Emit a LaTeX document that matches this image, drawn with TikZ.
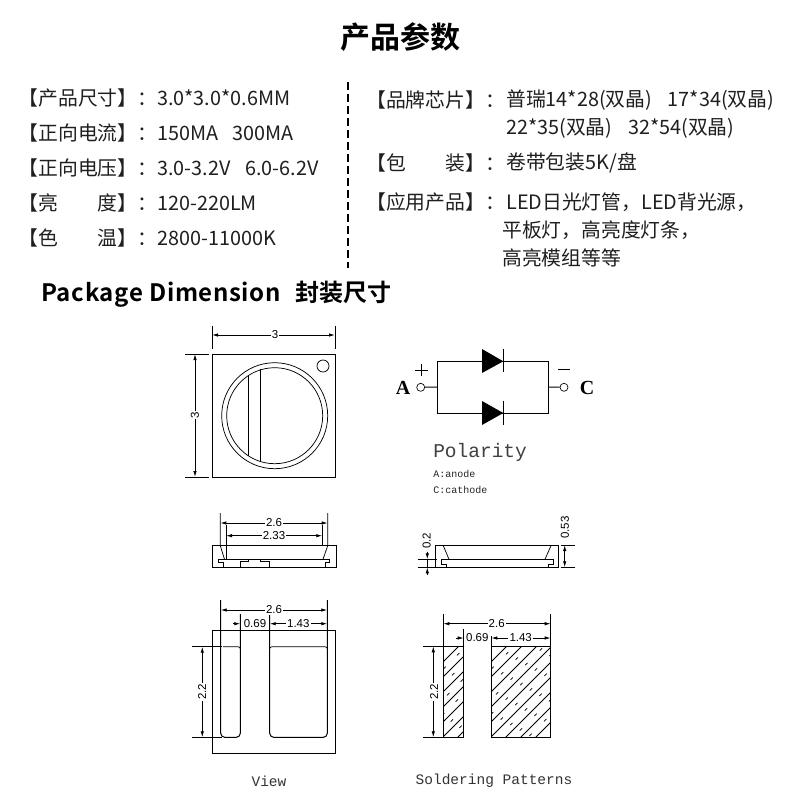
\documentclass[tikz,border=0pt]{standalone}
\usepackage{fontspec}
\setmainfont{Noto Sans CJK SC}
\newfontfamily\cjkn{Noto Sans CJK SC}
\newfontfamily\cjkb{Noto Sans CJK SC Bold}
\newfontfamily\latb{Noto Sans CJK SC Bold}[LetterSpace=2.7]
\newfontfamily\monof{Liberation Mono}
\newfontfamily\dimf{Liberation Sans}
\newfontfamily\capf{Liberation Serif}
\usetikzlibrary{arrows.meta}
\makeatletter
\newcommand{\fs}[1]{\fontsize{\strip@pt\dimexpr#1pt*3/4\relax}{\strip@pt\dimexpr#1pt\relax}\selectfont}
\makeatother
\tikzset{
  x=0.75pt,y=-0.75pt,
  cad/.style={draw=black,line width=0.75pt},
  thincad/.style={draw=black,line width=0.55pt},
  dimline/.style={draw=black,line width=0.65pt},
  arr/.style={dimline,{Latex[length=4.5pt,width=2.6pt]}-{Latex[length=4.5pt,width=2.6pt]}},
  arrE/.style={dimline,-{Latex[length=4.5pt,width=2.6pt]}},
  dimtxt/.style={inner sep=0.8pt,font=\dimf\fs{11.5},fill=white},
  spec/.style={anchor=west,inner sep=0pt,font=\cjkn\fs{19.8},text=black!88},
  mono/.style={anchor=center,inner sep=0pt,font=\monof\fs{14.5},text=black!80},
}
\begin{document}
\begin{tikzpicture}
\useasboundingbox (0,0) rectangle (800,800);
\fill[white] (0,0) rectangle (800,800);
\node[inner sep=0pt,font=\cjkb\fs{30}] (title) at (400,37) {产品参数};
% left column
\node[spec] (l1) at (18.5,98) {【产品尺寸】：};\node[spec] (v1) at (157,98) {3.0*3.0*0.6MM};
\node[spec] (l2) at (18.5,133) {【正向电流】：};\node[spec] (v2) at (157,133) {150MA\hspace{0.7em}300MA};
\node[spec] (l3) at (18.5,168) {【正向电压】：};\node[spec] (v3) at (157,168) {3.0-3.2V\hspace{0.75em}6.0-6.2V};
\node[spec] (l4) at (18.5,203) {【亮\hspace{2em}度】：};\node[spec] (v4) at (157,203) {120-220LM};
\node[spec] (l5) at (18.5,238) {【色\hspace{2em}温】：};\node[spec] (v5) at (157,238) {2800-11000K};
\coordinate (dv1) at (348,82);\coordinate (dv2) at (348,268);
\draw[black,line width=0.9pt,dash pattern=on 6pt off 3pt] (dv1)--(dv2);
% right column
\node[spec] (r1) at (366,100) {【品牌芯片】：};\node[spec] (w1) at (506,100) {普瑞14*28(双晶)\hspace{0.8em}17*34(双晶)};
\node[spec] (w1b) at (506,128) {22*35(双晶)\hspace{0.8em}32*54(双晶)};
\node[spec] (r2) at (366,163) {【包\hspace{2em}装】：};\node[spec] (w2) at (506,163) {卷带包装5K/盘};
\node[spec] (r3) at (366,202) {【应用产品】：};\node[spec] (w3) at (506,202) {LED日光灯管，LED背光源，};
\node[spec] (w3b) at (502,230) {平板灯，高亮度灯条，};
\node[spec] (w3c) at (502,258) {高亮模组等等};
\node[anchor=base west,inner sep=0pt,font=\latb\fs{24}] (pkg) at (41,301) {Package Dimension};
\node[anchor=base west,inner sep=0pt,font=\cjkb\fs{24}] (pkgc) at (295,301) {封装尺寸};
% ---- top view
\draw[cad] (212,354) rectangle (335,477);
\draw[thincad] (274.7,415.7) circle[radius=53];
\draw[thincad] (274.7,415.7) circle[radius=48];
\draw[thincad] (323,366) circle[radius=6];
\draw[cad] (248.3,376)--(248.3,456) (260.3,369)--(260.3,461);
\draw[thincad] (212,326)--(212,349) (335,326)--(335,349) (185,354)--(209,354) (185,477)--(209,477);
\draw[arr] (212,335)--(335,335);
\draw[arr] (195,354)--(195,477);
\node[dimtxt] (d1) at (275,335) {3};
\node[dimtxt,rotate=90] (d2) at (195,415) {3};
% ---- diode
\coordinate (jl) at (437,387);\coordinate (jr) at (548,387);
\draw[cad] (437,361.3) rectangle (548,413);
\node[circle,draw,line width=0.5pt,inner sep=0pt,minimum size=6pt] (A) at (420.7,387.3) {};
\node[circle,draw,line width=0.5pt,inner sep=0pt,minimum size=6pt] (C) at (564,387.3) {};
\draw[cad] (A)--(jl) (jr)--(C);
\fill (482,349)--(503.3,361.3)--(482,373)--cycle;
\fill (482,401)--(503.3,413)--(482,425)--cycle;
\draw[cad] (503.3,349)--(503.3,372) (503.3,401)--(503.3,425);
\draw[thincad] (421,364)--(421,376) (414.5,370)--(427.5,370) (558,369.7)--(570,369.7);
\node[inner sep=0pt,font=\capf\bfseries\fs{20}] (lA) at (403,388) {A};
\node[inner sep=0pt,font=\capf\bfseries\fs{20}] (lC) at (587,388) {C};
\node[anchor=west,inner sep=0pt,font=\monof\fs{19.5},text=black!75] (pol) at (433,452) {Polarity};
\node[anchor=west,inner sep=0pt,font=\monof\fs{10},text=black!85] (an) at (433,474) {A:anode};
\node[anchor=west,inner sep=0pt,font=\monof\fs{10},text=black!85] (ca) at (433,490) {C:cathode};
% ---- side view 1
\draw[cad] (212.3,545) rectangle (336,567.3);
\draw[cad] (223.3,567.3)--(223.3,562.3)--(218.3,562.3)--(218.3,559.3)--(329,559.3)--(329,562.3)--(325,562.3)--(325,567.3);
\draw[cad] (248.7,559.3)--(248.7,561.3)--(240,561.3)--(240,567.3);
\draw[cad] (260.3,559.3)--(260.3,561.3)--(269.7,561.3)--(269.7,567.3);
\draw[thincad] (220.3,513)--(220.3,545.7)--(224.5,559.3) (327.7,513)--(327.7,545.7)--(323,559.3);
\draw[thincad] (226,525)--(226,559.3) (322.3,525)--(322.3,545.7);
\draw[arr] (220.3,523)--(327.7,523);
\draw[arr] (226,535.7)--(322.3,535.7);
\node[dimtxt] (d3) at (274,523) {2.6};
\node[dimtxt] (d4) at (274,535.7) {2.33};
% ---- side view 2
\draw[cad] (435.3,545) rectangle (558.7,567.3);
\draw[cad] (446,567.3)--(446,564.3)--(441,564.3)--(441,559.3)--(553.3,559.3)--(553.3,564.3)--(548.3,564.3)--(548.3,567.3);
\draw[thincad] (443.3,545.7)--(449,559.3) (551,545.7)--(545,559.3);
\draw[thincad] (417.7,559.3)--(437.3,559.3) (417.7,567.3)--(435.3,567.3);
\draw[thincad] (560.7,545)--(575,545) (560.7,567.3)--(575,567.3);
\draw[arrE] (427.3,551.7)--(427.3,559.3);
\draw[arrE] (427.3,575)--(427.3,567.3);
\draw[dimline] (427.3,559.3)--(427.3,567.3);
\draw[arr] (564.7,545)--(564.7,567.3);
\node[dimtxt,rotate=90] (d5) at (426.7,540.7) {0.2};
\node[dimtxt,rotate=90] (d6) at (565,527.7) {0.53};
% ---- view
\draw[cad] (212.3,630.3) rectangle (335.7,753.3);
\draw[cad,rounded corners=3pt] (220.7,600)--(220.7,737.3)--(240.3,737.3)--(240.3,614);
\draw[cad,rounded corners=3pt] (269.7,614)--(269.7,737.3)--(327.3,737.3)--(327.3,600);
\draw[thincad] (223,646.7)--(238,646.7) (240.3,649) .. controls (240.3,647.5) .. (238,646.7);
\draw[thincad] (269.7,649) .. controls (269.7,647.5) .. (272,646.7)--(325,646.7) .. controls (327.3,647.5) .. (327.3,649);
\draw[thincad] (192.3,646.7)--(222,646.7) (192.3,737.3)--(222,737.3);
\draw[arr] (220.7,610)--(327.3,610);
\node[dimtxt] (d7) at (274,610) {2.6};
\draw[arrE] (233,623.7)--(240.3,623.7);
\draw[arr] (269.7,623.7)--(327.3,623.7);
\node[dimtxt] (d8) at (255,623.7) {0.69};
\node[dimtxt] (d9) at (298.3,623.7) {1.43};
\draw[arr] (202.3,646.7)--(202.3,737.3);
\node[dimtxt,rotate=90] (d10) at (202,691.7) {2.2};
\node[mono] (view) at (269,781) {View};
% ---- soldering
\begin{scope}
\clip (443.3,646.3) rectangle (463.7,737.3);
\foreach \k in {0,...,7}{\draw[thincad] (443.3,661.7+\k*15)--(470,635+\k*15);}
\foreach \k [evaluate=\k as \ph using \k*5.3] in {0,...,7}{\draw[thincad,dash pattern=on 2.5pt off 12pt,dash phase=\ph pt] (443.3,669+\k*15)--(470,642.3+\k*15);}
\end{scope}
\begin{scope}
\clip (491.3,646.3) rectangle (550.7,737.3);
\foreach \k in {0,...,10}{\draw[thincad] (491.3,661.7+\k*15)--(560,593+\k*15);}
\foreach \k [evaluate=\k as \ph using \k*5.3] in {0,...,10}{\draw[thincad,dash pattern=on 2.5pt off 13pt,dash phase=\ph pt] (491.3,669+\k*15)--(560,600.3+\k*15);}
\end{scope}
\draw[cad] (443.3,646.3) rectangle (463.7,737.3);
\draw[cad] (491.3,646.3) rectangle (550.7,737.3);
\draw[thincad] (443.3,614)--(443.3,646.3) (550.7,614)--(550.7,646.3) (463.7,629)--(463.7,646.3) (491.3,636)--(491.3,646.3);
\draw[thincad] (423,646.3)--(443.3,646.3) (423,737.3)--(443.3,737.3);
\draw[arr] (443.3,623.7)--(550.7,623.7);
\node[dimtxt] (d11) at (496.7,623.7) {2.6};
\draw[arrE] (456,638)--(463.7,638);
\draw[arr] (491.3,638)--(550.7,638);
\node[dimtxt] (d12) at (477.3,638) {0.69};
\node[dimtxt] (d13) at (520.7,638) {1.43};
\draw[arr] (433.3,646.3)--(433.3,737.3);
\node[dimtxt,rotate=90] (d14) at (434,691.7) {2.2};
\node[mono] (sol) at (494,781) {Soldering Patterns};
\end{tikzpicture}
\end{document}
